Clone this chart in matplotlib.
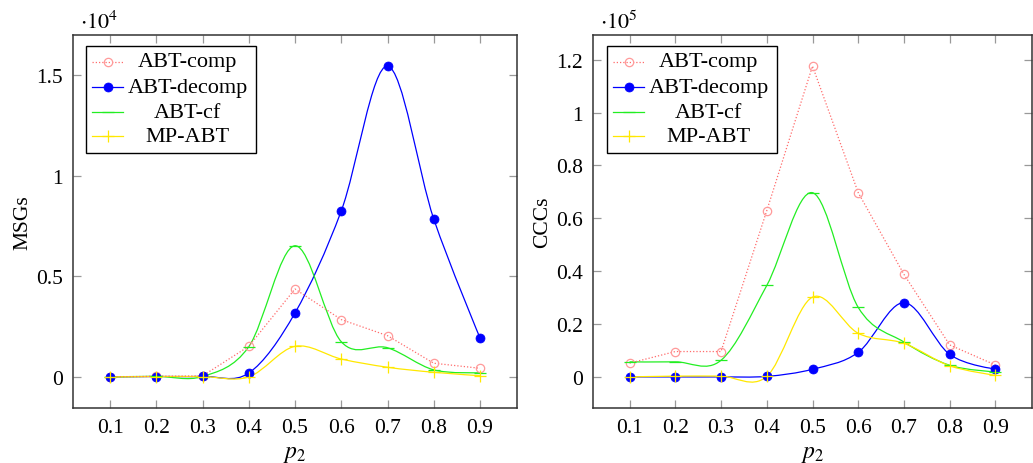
import numpy as np
import matplotlib
matplotlib.use('Agg')
import matplotlib.pyplot as plt
from matplotlib.path import Path
from matplotlib.patches import PathPatch, Rectangle
from matplotlib.lines import Line2D

plt.rcParams['font.family'] = ['Liberation Serif', 'DejaVu Serif']
plt.rcParams['mathtext.fontset'] = 'stix'

p2 = [0.1, 0.2, 0.3, 0.4, 0.5, 0.6, 0.7, 0.8, 0.9]

# message counts, in units of 10^4
msgs_comp = [0.0, 0.003, 0.005, 0.152, 0.437, 0.285, 0.205, 0.068, 0.043]
msgs_decomp = [0.0, 0.002, 0.003, 0.019, 0.318, 0.825, 1.545, 0.785, 0.194]
msgs_cf = [0.0, 0.003, 0.002, 0.150, 0.652, 0.175, 0.145, 0.035, 0.021]
msgs_mp = [0.0, 0.002, 0.002, 0.0, 0.152, 0.089, 0.048, 0.023, 0.006]

# constraint checks, in units of 10^5
cccs_comp = [0.052, 0.096, 0.096, 0.629, 1.176, 0.697, 0.388, 0.121, 0.045]
cccs_decomp = [0.0, 0.0, 0.0, 0.002, 0.029, 0.093, 0.281, 0.085, 0.030]
cccs_cf = [0.057, 0.057, 0.063, 0.346, 0.697, 0.263, 0.132, 0.044, 0.019]
cccs_mp = [0.0, 0.003, 0.003, 0.002, 0.302, 0.165, 0.127, 0.042, 0.006]

labels = ['ABT-comp', 'ABT-decomp', 'ABT-cf', 'MP-ABT']

# line colour, marker edge colour, line style, marker, marker face, smooth?
styles = [
    dict(color='#ff6b6b', mec='#ff9a9a', ls=(0, (1, 1.6)), marker='o', mfc='none', ms=6.0, smooth=False),
    dict(color='#0000ff', mec='#0000ff', ls='-', marker='o', mfc='#0000ff', ms=6.5, smooth=True),
    dict(color='#22ee22', mec='#22ee22', ls='-', marker='_', mfc='#22ee22', ms=8.0, smooth=True),
    dict(color='#ffe800', mec='#ffe800', ls='-', marker='+', mfc='#ffe800', ms=8.0, smooth=True),
]

FS = 15.5


def smooth_path(x, y, tension=0.55):
    # bezier curve through the points, same construction as tikz "smooth"
    pts = np.column_stack([x, y]).astype(float)
    k = 0.3 * tension
    n = len(pts)
    tang = np.zeros_like(pts)
    for i in range(1, n - 1):
        tang[i] = pts[i + 1] - pts[i - 1]
    verts = [pts[0]]
    codes = [Path.MOVETO]
    for i in range(n - 1):
        verts += [pts[i] + k * tang[i], pts[i + 1] - k * tang[i + 1], pts[i + 1]]
        codes += [Path.CURVE4] * 3
    return Path(verts, codes)


def edge_width(st):
    return 0.5 if (st['marker'] == 'o' and st['mfc'] != 'none') else 0.9


def draw_series(ax, x, y, st):
    lw = 0.9
    if st['smooth']:
        patch = PathPatch(smooth_path(x, y), fill=False, edgecolor=st['color'],
                          linewidth=lw, linestyle=st['ls'])
        ax.add_patch(patch)
    else:
        ax.plot(x, y, color=st['color'], lw=lw, ls=st['ls'])
    ax.plot(x, y, ls='none', marker=st['marker'], ms=st['ms'],
            mfc=st['mfc'], mec=st['mec'], mew=edge_width(st))


def draw_legend(fig, x0, y0):
    # pgfplots-style legend box, given by its top left corner in pixels
    W, H = 1033.0, 464.0
    bw, bh = 170.0, 107.0
    fig.patches.append(Rectangle((x0 / W, 1 - (y0 + bh) / H), bw / W, bh / H,
                                 transform=fig.transFigure, fill=True, facecolor='white',
                                 edgecolor='black', lw=1.0, zorder=5))
    rows = [15.7, 41.3, 66.3, 90.3]
    for lab, st, r in zip(labels, styles, rows):
        yy = 1 - (y0 + r) / H
        ln = Line2D([(x0 + 5.7) / W, (x0 + 37.3) / W], [yy, yy], transform=fig.transFigure,
                    color=st['color'], lw=0.9, ls=st['ls'], zorder=6)
        fig.lines.append(ln)
        mk = Line2D([(x0 + 21.5) / W], [yy], transform=fig.transFigure, ls='none',
                    marker=st['marker'], ms=st['ms'], mfc=st['mfc'], mec=st['mec'],
                    mew=edge_width(st), zorder=6)
        fig.lines.append(mk)
        fig.text((x0 + 101.5) / W, yy, lab, ha='center', va='center', fontsize=FS + 0.5, zorder=7)


fig = plt.figure(figsize=(10.33, 4.64), dpi=100)
ax1 = fig.add_axes([73 / 1033, 55 / 464, 444 / 1033, 373 / 464])
ax2 = fig.add_axes([593 / 1033, 55 / 464, 439 / 1033, 373 / 464])

panels = [
    (ax1, [msgs_comp, msgs_decomp, msgs_cf, msgs_mp], 'MSGs', [0, 0.5, 1, 1.5], 4),
    (ax2, [cccs_comp, cccs_decomp, cccs_cf, cccs_mp], 'CCCs', [0, 0.2, 0.4, 0.6, 0.8, 1, 1.2], 5),
]

for ax, series, ylab, yt, expo in panels:
    for ys, st in zip(series, styles):
        draw_series(ax, p2, ys, st)
    top = max(max(s) for s in series)
    ax.set_xlim(0.02, 0.98)
    ax.set_ylim(-0.1 * top, 1.1 * top)
    ax.set_xticks(p2)
    ax.set_xticklabels(['{:g}'.format(v) for v in p2])
    ax.set_yticks(yt)
    ax.set_yticklabels(['{:g}'.format(v) for v in yt])
    ax.tick_params(direction='in', length=6, width=0.9, color='#999999',
                   top=True, right=True, labelsize=FS, pad=7)
    for sp in ax.spines.values():
        sp.set_color('#333333')
        sp.set_linewidth(1.1)
    ax.set_ylabel(ylab, fontsize=FS)
    ax.yaxis.set_label_coords(-0.092, 0.5)
    ax.set_xlabel(r'$p_2$', fontsize=17)
    ax.xaxis.set_label_coords(0.5, -0.095)
    ax.text(0.015, 1.005, r'$\cdot 10^{%d}$' % expo, transform=ax.transAxes,
            fontsize=16, ha='left', va='bottom')

draw_legend(fig, 86, 47)
draw_legend(fig, 607, 47)

fig.savefig('out.png', dpi=100)
